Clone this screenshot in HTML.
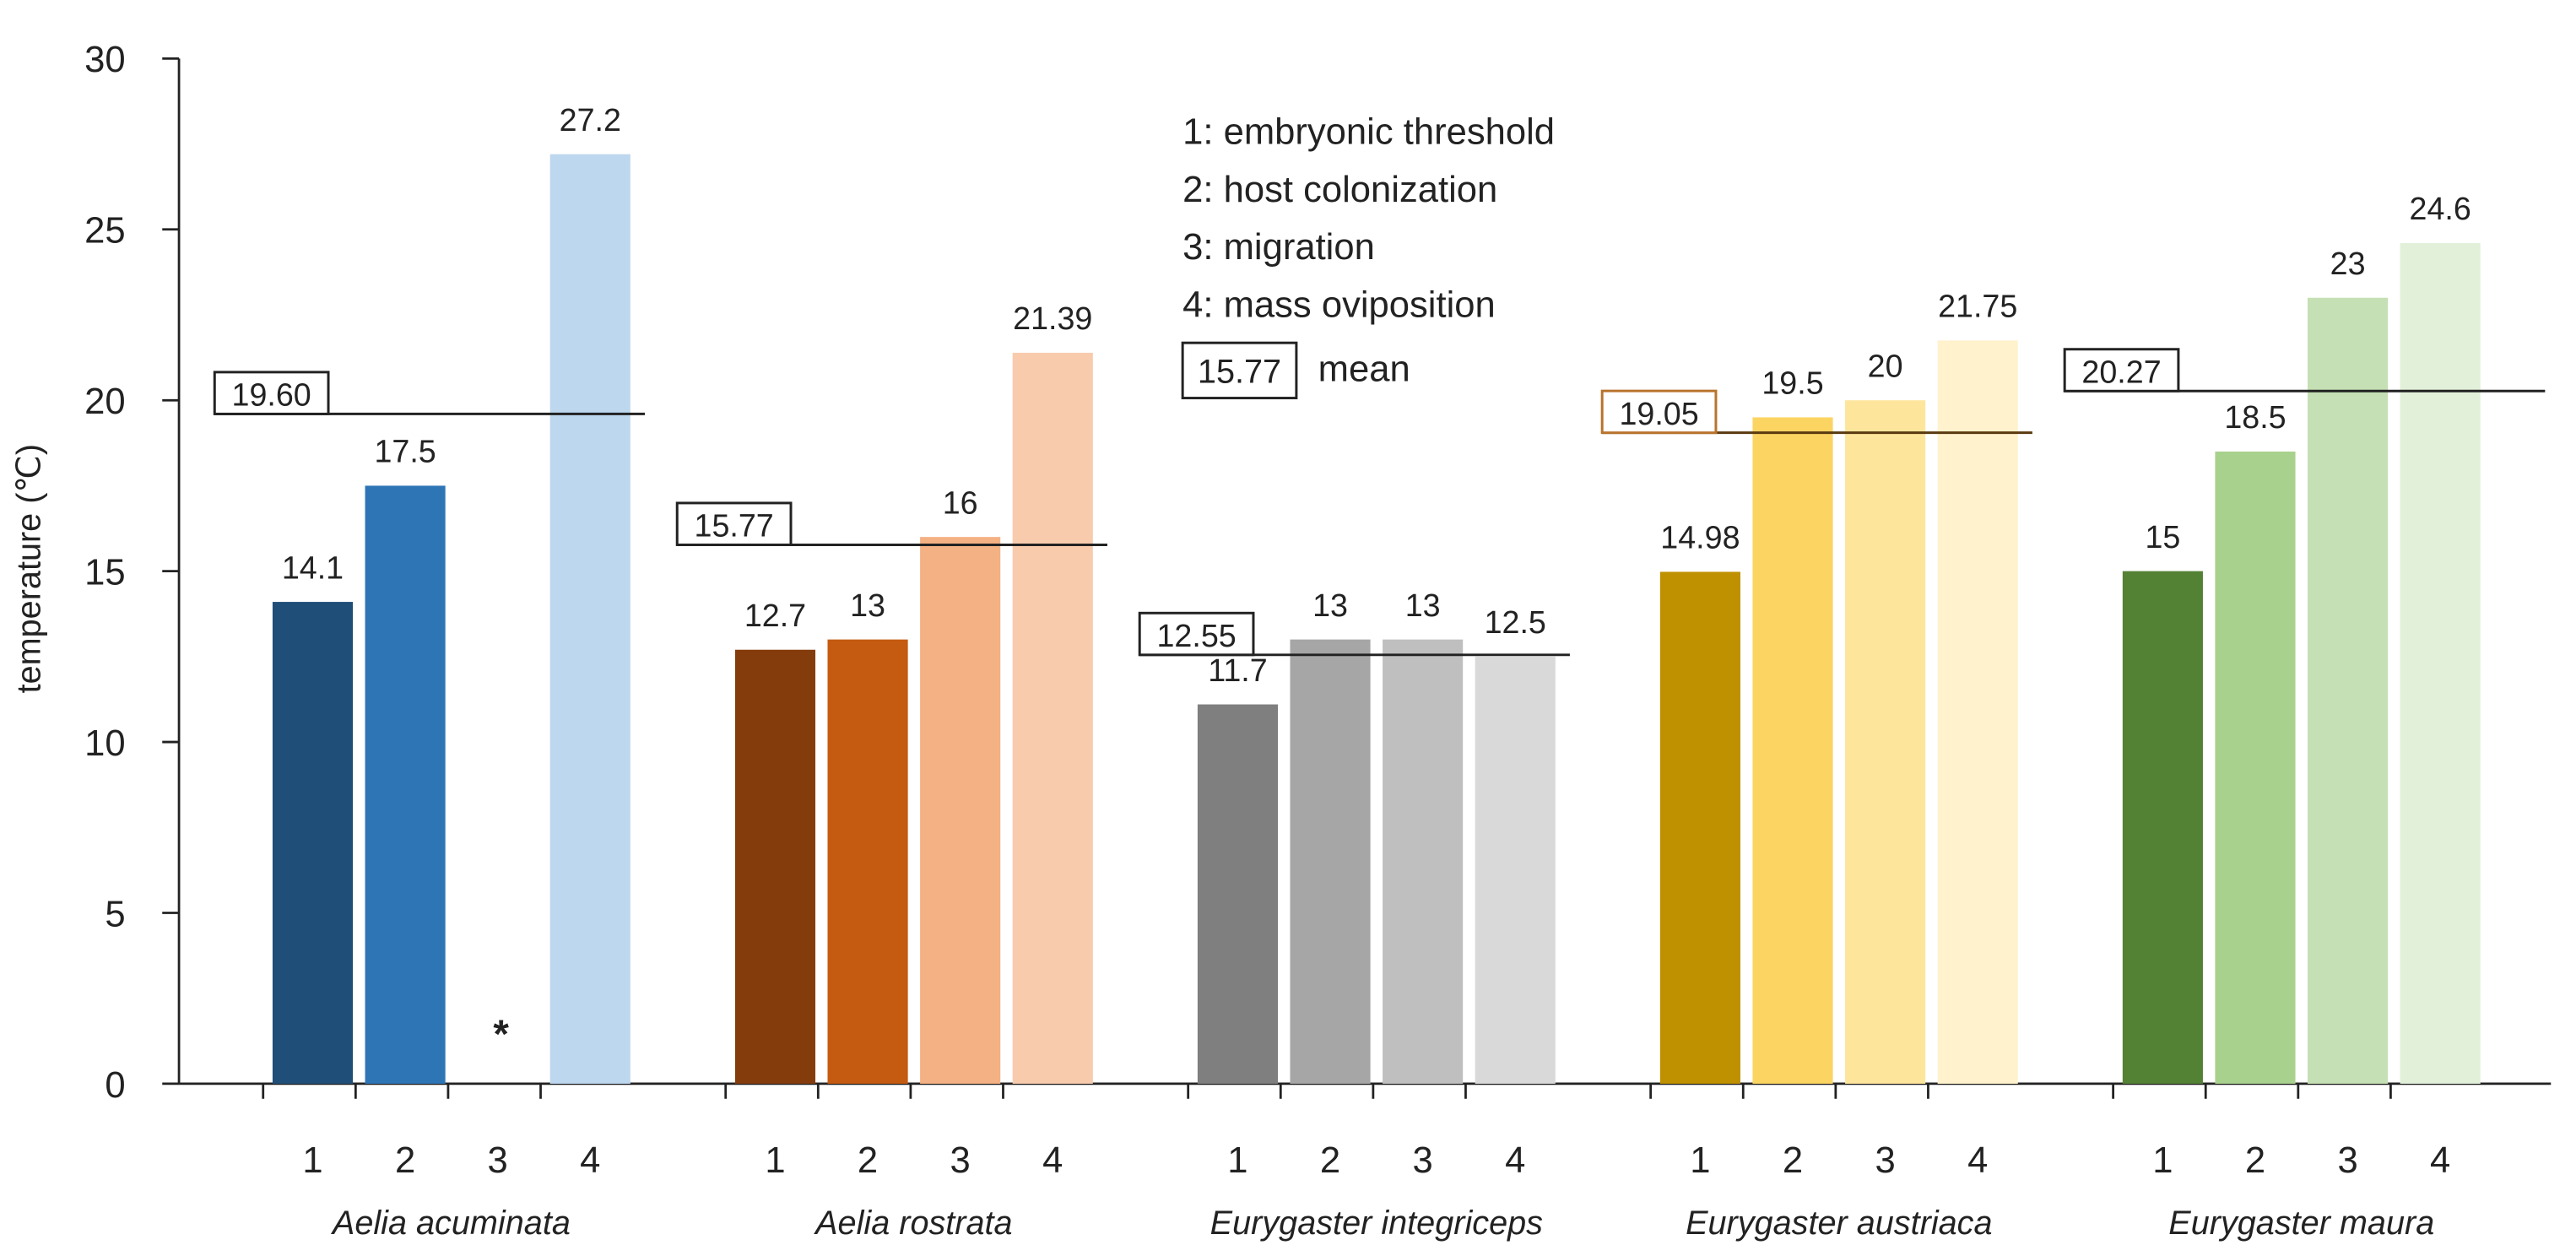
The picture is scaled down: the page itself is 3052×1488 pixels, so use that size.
<!DOCTYPE html>
<html><head><meta charset="utf-8"><style>
html,body{margin:0;padding:0;background:#fff;}
svg{display:block;}
text{font-family:"Liberation Sans",sans-serif;fill:#222;}
</style></head><body>
<svg id="chart" width="3052" height="1488" viewBox="0 0 1540 751" preserveAspectRatio="none" xmlns="http://www.w3.org/2000/svg">
<g id="g"></g>
</svg>
<script>
const species = ["Aelia acuminata","Aelia rostrata","Eurygaster integriceps","Eurygaster austriaca","Eurygaster maura"];
const stages = ["1","2","3","4"];
const valuesAA = [14.1, 17.5, null, 27.2];
const valuesAR = [12.7, 13, 16, 21.39];
const valuesEI = [11.1, 13, 13, 12.5];
const valuesEA = [14.98, 19.5, 20, 21.75];
const valuesEM = [15, 18.5, 23, 24.6];
const labelsEI = ["11.7","13","13","12.5"];
const means = [19.60, 15.77, 12.55, 19.05, 20.27];
const meanLabels = ["19.60","15.77","12.55","19.05","20.27"];
const yTicks = [0,5,10,15,20,25,30];
const legendItems = ["1: embryonic threshold","2: host colonization","3: migration","4: mass oviposition"];

const series=[valuesAA,valuesAR,valuesEI,valuesEA,valuesEM];
const colors=[["#1f4e79","#2e75b6","#9dc3e6","#bdd7ee"],["#843c0c","#c55a11","#f4b183","#f8cbad"],["#7f7f7f","#a6a6a6","#bfbfbf","#d9d9d9"],["#bf9000","#fcd462","#fde69c","#fff2cc"],["#548235","#a9d18e","#c5e0b4","#e2f0d9"]];
const boxColors=["#222","#222","#222","#b8732c","#222"];
const X0=107, SLOT=55.3, Y0=648, YS=(648-35)/30;
const y=v=>Y0-v*YS;
const slotX=(gi,si)=>X0+(gi*5+1+si)*SLOT;
const g=document.getElementById('g');
const NS="http://www.w3.org/2000/svg";
function mk(tag,attrs,txt){const e=document.createElementNS(NS,tag);for(const k in attrs)e.setAttribute(k,attrs[k]);if(txt!==undefined)e.textContent=txt;g.appendChild(e);return e;}

let e=mk('line',{x1:X0,y1:y(30),x2:X0,y2:Y0,stroke:'#222','stroke-width':1.4});


e=mk('line',{x1:X0,y1:Y0,x2:1525,y2:Y0,stroke:'#222','stroke-width':1.4});


yTicks.forEach(t=>{
  let l=mk('line',{x1:X0-10,y1:y(t),x2:X0,y2:y(t),stroke:'#222','stroke-width':1.4});
  
  
  let tx=mk('text',{x:X0-32,y:y(t)+8,'text-anchor':'end','font-size':22},String(t));
  
  
});
for(let s=1;s<26;s++){
  if(s%5===0) continue;
  let l=mk('line',{x1:X0+s*SLOT-5,y1:Y0,x2:X0+s*SLOT-5,y2:Y0+9,stroke:'#222','stroke-width':1.4});
  
  
}
let yl=mk('text',{x:24,y:340,'text-anchor':'middle','font-size':20,transform:'rotate(-90 24 340)'},'temperature (℃)');



series.forEach((vals,gi)=>{
  vals.forEach((v,si)=>{
    const cx=slotX(gi,si)+SLOT/2-3;
    if(v!==null){
      let r=mk('rect',{x:cx-24,y:y(v),width:48,height:Y0-y(v),fill:colors[gi][si]});
      
      
      const lab=gi===2?labelsEI[si]:String(v);
      let t=mk('text',{x:cx,y:y(v)-14,'text-anchor':'middle','font-size':19},lab);
      
      
    } else {
      let t=mk('text',{x:cx+2,y:y(1.5)+9,'text-anchor':'middle','font-size':24,'font-weight':'bold'},'*');
      
      
    }
    let n=mk('text',{x:cx,y:701,'text-anchor':'middle','font-size':22},stages[si]);
    
    
  });
  const gc=slotX(gi,2)-3;
  let sp=mk('text',{x:gc,y:738,'text-anchor':'middle','font-size':20,'font-style':'italic'},species[gi]);
  
  
  const lx=slotX(gi,0)-34, rx=slotX(gi,4)+2+(gi===4?30:0);
  let ml=mk('line',{x1:lx,y1:y(means[gi]),x2:rx,y2:y(means[gi]),stroke:gi===3?'#5a3a10':'#222','stroke-width':1.5});
  
  
  let mb=mk('rect',{x:lx,y:y(means[gi])-25,width:68,height:25,fill:'#fff',stroke:boxColors[gi],'stroke-width':1.5});
  
  
  let mt=mk('text',{x:lx+34,y:y(means[gi])-5,'text-anchor':'middle','font-size':19,fill:'#2f4f3f'},meanLabels[gi]);
  
  
});
legendItems.forEach((s,i)=>{
  let t=mk('text',{x:707,y:86+i*34.5,'font-size':22},s);
  
  
});
let lb=mk('rect',{x:707,y:205,width:68,height:33,fill:'none',stroke:'#222','stroke-width':1.5});


let lt=mk('text',{x:741,y:229,'text-anchor':'middle','font-size':20,fill:'#2f4f3f'},'15.77');


let lm=mk('text',{x:788,y:228,'font-size':22},'mean');


</script>
</body></html>
